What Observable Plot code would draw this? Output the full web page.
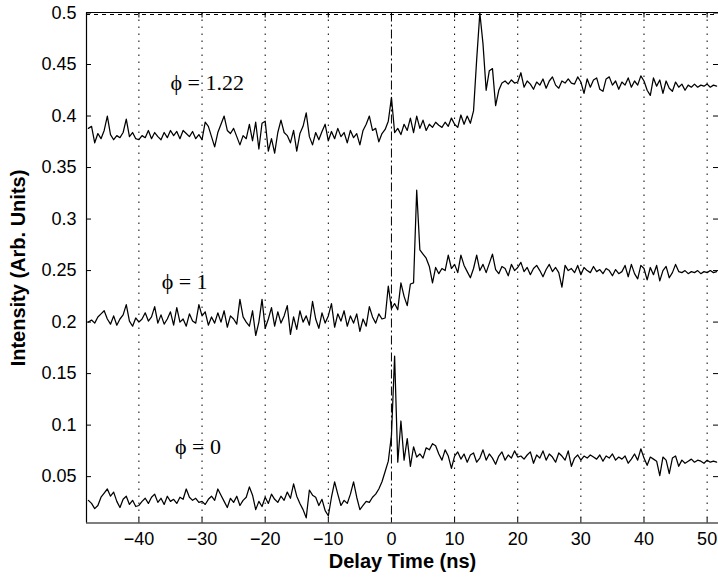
<!DOCTYPE html>
<html><head><meta charset="utf-8">
<script src="https://cdn.jsdelivr.net/npm/d3@7"></script>
<script src="https://cdn.jsdelivr.net/npm/@observablehq/plot@0.6"></script>
<style>html,body{margin:0;padding:0;background:#fff}#chart{width:718px;height:582px}</style>
</head><body><div id="chart"></div>
<script>
// sampling grid of the traces (ns)
const tStart = -48, tStep = 0.5;

// phi = 1.22 trace, one row = 5 ns
const phi122 = [
 0.388,0.390,0.374,0.383,0.378,0.386,0.400,0.382,0.377,0.381,
 0.379,0.384,0.397,0.380,0.384,0.378,0.377,0.381,0.379,0.386,
 0.378,0.384,0.380,0.377,0.384,0.379,0.386,0.381,0.385,0.378,
 0.386,0.383,0.380,0.385,0.378,0.382,0.377,0.394,0.390,0.380,
 0.370,0.384,0.392,0.400,0.386,0.383,0.388,0.380,0.372,0.381,
 0.378,0.392,0.376,0.394,0.368,0.393,0.395,0.366,0.378,0.364,
 0.384,0.396,0.384,0.381,0.374,0.386,0.366,0.383,0.390,0.403,
 0.380,0.372,0.384,0.377,0.385,0.392,0.376,0.385,0.378,0.388,
 0.380,0.384,0.374,0.386,0.379,0.383,0.372,0.386,0.392,0.400,
 0.386,0.388,0.375,0.383,0.387,0.395,0.418,0.384,0.388,0.382,
 0.392,0.386,0.398,0.384,0.400,0.388,0.396,0.386,0.392,0.389,
 0.394,0.391,0.389,0.394,0.390,0.398,0.392,0.389,0.401,0.392,
 0.400,0.393,0.405,0.455,0.500,0.470,0.425,0.444,0.446,0.410,
 0.425,0.432,0.434,0.431,0.435,0.432,0.433,0.442,0.428,0.434,
 0.431,0.426,0.433,0.430,0.436,0.427,0.434,0.438,0.430,0.427,
 0.434,0.432,0.436,0.432,0.431,0.438,0.433,0.422,0.436,0.428,
 0.435,0.437,0.426,0.424,0.436,0.438,0.430,0.434,0.426,0.433,
 0.430,0.437,0.428,0.434,0.430,0.439,0.434,0.425,0.420,0.437,
 0.429,0.435,0.422,0.434,0.427,0.424,0.433,0.428,0.431,0.425,
 0.430,0.428,0.431,0.428,0.430,0.429,0.431,0.428,0.430,0.429
];

// phi = 1 trace
const phi1 = [
 0.200,0.202,0.199,0.205,0.208,0.211,0.203,0.198,0.206,0.197,
 0.203,0.207,0.217,0.201,0.196,0.204,0.200,0.203,0.209,0.201,
 0.205,0.215,0.199,0.207,0.198,0.203,0.210,0.197,0.214,0.200,
 0.203,0.196,0.208,0.201,0.199,0.217,0.206,0.210,0.197,0.205,
 0.199,0.209,0.200,0.211,0.195,0.206,0.203,0.198,0.222,0.205,
 0.200,0.196,0.211,0.187,0.200,0.222,0.194,0.203,0.214,0.196,
 0.210,0.199,0.206,0.216,0.188,0.205,0.193,0.211,0.200,0.206,
 0.197,0.220,0.203,0.194,0.209,0.199,0.206,0.218,0.195,0.208,
 0.201,0.211,0.196,0.206,0.199,0.208,0.191,0.203,0.196,0.215,
 0.205,0.199,0.208,0.203,0.204,0.235,0.213,0.218,0.212,0.238,
 0.225,0.216,0.237,0.238,0.328,0.270,0.266,0.262,0.254,0.238,
 0.253,0.247,0.252,0.250,0.265,0.252,0.256,0.248,0.265,0.255,
 0.249,0.243,0.252,0.265,0.250,0.256,0.248,0.257,0.266,0.251,
 0.247,0.254,0.252,0.245,0.256,0.250,0.253,0.258,0.249,0.253,
 0.246,0.252,0.255,0.250,0.244,0.251,0.256,0.249,0.253,0.248,
 0.234,0.255,0.250,0.252,0.248,0.255,0.246,0.253,0.250,0.248,
 0.254,0.249,0.251,0.247,0.252,0.250,0.245,0.251,0.247,0.249,
 0.255,0.244,0.256,0.247,0.242,0.255,0.252,0.241,0.253,0.246,
 0.255,0.240,0.250,0.254,0.243,0.248,0.256,0.249,0.248,0.250,
 0.247,0.249,0.248,0.250,0.247,0.249,0.248,0.250,0.248,0.249
];

// phi = 0 trace
const phi0 = [
 0.027,0.024,0.019,0.022,0.030,0.034,0.038,0.031,0.035,0.026,
 0.020,0.028,0.031,0.023,0.027,0.021,0.022,0.026,0.029,0.024,
 0.030,0.033,0.025,0.029,0.023,0.031,0.026,0.028,0.024,0.030,
 0.028,0.038,0.030,0.027,0.029,0.025,0.026,0.023,0.028,0.031,
 0.027,0.038,0.032,0.026,0.020,0.029,0.025,0.031,0.022,0.027,
 0.030,0.040,0.032,0.018,0.026,0.021,0.030,0.024,0.033,0.028,
 0.025,0.031,0.027,0.035,0.029,0.043,0.031,0.024,0.018,0.010,
 0.037,0.032,0.030,0.022,0.028,0.017,0.012,0.030,0.045,0.033,
 0.022,0.027,0.024,0.033,0.045,0.030,0.018,0.022,0.026,0.025,
 0.030,0.033,0.038,0.045,0.055,0.065,0.090,0.167,0.064,0.104,
 0.066,0.087,0.060,0.079,0.069,0.072,0.068,0.078,0.076,0.082,
 0.080,0.072,0.066,0.076,0.070,0.058,0.070,0.074,0.067,0.072,
 0.064,0.071,0.073,0.064,0.068,0.076,0.066,0.072,0.068,0.062,
 0.070,0.074,0.066,0.071,0.068,0.075,0.069,0.070,0.067,0.071,
 0.074,0.063,0.071,0.068,0.075,0.066,0.072,0.069,0.064,0.073,
 0.070,0.066,0.075,0.060,0.068,0.071,0.066,0.070,0.068,0.071,
 0.069,0.067,0.071,0.065,0.070,0.068,0.072,0.066,0.069,0.067,
 0.070,0.063,0.067,0.072,0.066,0.077,0.068,0.061,0.069,0.067,
 0.065,0.051,0.069,0.066,0.053,0.068,0.070,0.060,0.066,0.063,
 0.065,0.067,0.064,0.066,0.065,0.063,0.066,0.064,0.065,0.064
];

const xTicks = [-40, -30, -20, -10, 0, 10, 20, 30, 40, 50];
const yTicks = [0.05, 0.1, 0.15, 0.2, 0.25, 0.3, 0.35, 0.4, 0.45, 0.5];
const xDomain = [-48.3, 51.8];
const yDomain = [0.005, 0.5];
const seriesLabels = [
  {x: -35.0, y: 0.432, text: "ϕ = 1.22"},
  {x: -36.4, y: 0.239, text: "ϕ = 1"},
  {x: -34.3, y: 0.079, text: "ϕ = 0"}
];
const xLabel = "Delay Time (ns)";
const yLabel = "Intensity (Arb. Units)";

const toRows = (vals, s) => vals.map((v, i) => ({t: tStart + i * tStep, v, s}));
const data = [...toRows(phi122, "1.22"), ...toRows(phi1, "1"), ...toRows(phi0, "0")];

const W = 718, H = 582, mL = 86, mR = 0, mT = 12.5, mB = 59.5;
const pw = W - mL - mR, ph = H - mT - mB;
const sans = "'Liberation Sans', Arial, Helvetica, sans-serif";

const chart = Plot.plot({
  width: W, height: H,
  marginLeft: mL, marginRight: mR, marginTop: mT, marginBottom: mB,
  x: {domain: xDomain},
  y: {domain: yDomain},
  style: {fontFamily: sans, fontSize: "18px", color: "black", background: "white"},
  marks: [
    Plot.ruleX(xTicks.filter(d => d !== 0), {stroke: "black", strokeWidth: 1, strokeDasharray: "1.5,5.5"}),
    Plot.ruleX([0], {stroke: "black", strokeWidth: 1, strokeDasharray: "9,3,2,3"}),
    Plot.ruleY([yDomain[1]], {stroke: "black", strokeWidth: 1, strokeDasharray: "4,4", dy: 1.5}),
    Plot.line(data, {x: "t", y: "v", z: "s", stroke: "black", strokeWidth: 1.25}),
    Plot.ruleX([xDomain[0]], {stroke: "black", strokeWidth: 1.2}),
    Plot.ruleY([yDomain[0]], {stroke: "black", strokeWidth: 1.2}),
    Plot.ruleY([yDomain[1]], {stroke: "black", strokeWidth: 1, dy: -0.5}),
    Plot.ruleY(yTicks, {stroke: "black", insetRight: pw - 5}),
    Plot.ruleY(yTicks, {stroke: "black", insetLeft: pw - 5}),
    Plot.ruleX(xTicks, {stroke: "black", insetTop: ph - 5}),
    Plot.ruleX(xTicks, {stroke: "black", insetBottom: ph - 5}),
    Plot.axisY({ticks: yTicks, tickSize: 0, tickPadding: 10, label: null, tickFormat: d => String(d), fontSize: 18, fontFamily: sans}),
    Plot.axisX({ticks: xTicks, tickSize: 0, tickPadding: 9, label: null, fontSize: 18, fontFamily: sans}),
    Plot.text(seriesLabels, {x: "x", y: "y", text: "text", textAnchor: "start", fontFamily: "'Liberation Serif', 'Times New Roman', serif", fontSize: 22, fill: "black"}),
    Plot.text([xLabel], {text: d => d, frameAnchor: "bottom", textAnchor: "middle", dy: 45, fontWeight: "bold", fontSize: 20, fontFamily: sans, fill: "black"}),
    Plot.text([yLabel], {text: d => d, frameAnchor: "left", textAnchor: "middle", dx: -68, rotate: -90, fontWeight: "bold", fontSize: 20, fontFamily: sans, fill: "black"})
  ]
});
document.getElementById("chart").appendChild(chart);
</script>
</body></html>
